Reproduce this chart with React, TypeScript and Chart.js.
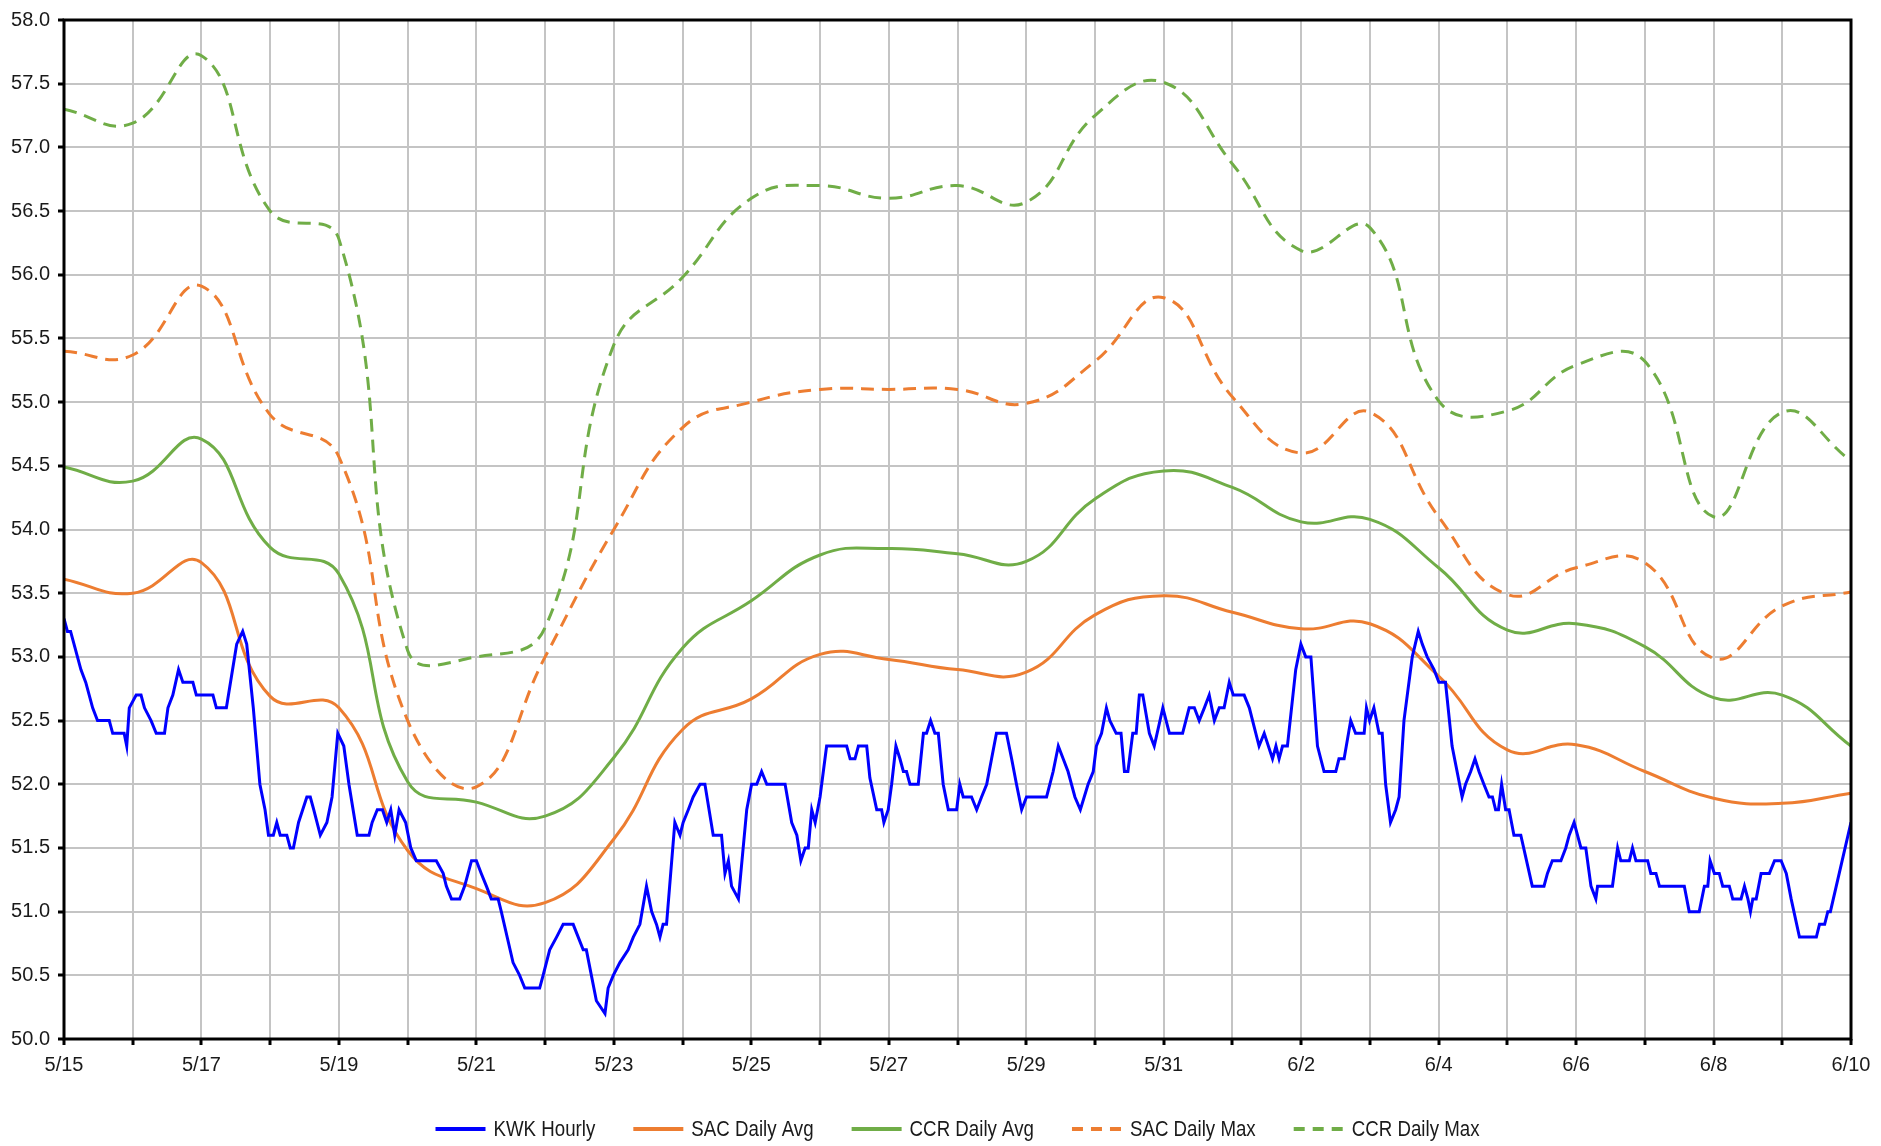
import { useEffect, useRef } from 'react';
import { Chart, registerables } from 'chart.js';

Chart.register(...registerables);

const FONT = '"Liberation Sans", Arial, sans-serif';

// Day categories (x = day index * 24 hours)
const dayLabels = [
  '5/15', '5/16', '5/17', '5/18', '5/19', '5/20', '5/21', '5/22', '5/23', '5/24',
  '5/25', '5/26', '5/27', '5/28', '5/29', '5/30', '5/31', '6/1', '6/2', '6/3',
  '6/4', '6/5', '6/6', '6/7', '6/8', '6/9', '6/10',
];

const sacDailyAvg = [
  53.61, 53.5, 53.74, 52.69, 52.6, 51.48, 51.18, 51.07, 51.57, 52.43,
  52.67, 53.02, 52.98, 52.9, 52.88, 53.33, 53.48, 53.35, 53.22, 53.26,
  52.85, 52.27, 52.31, 52.1, 51.89, 51.85, 51.93,
];

const ccrDailyAvg = [
  54.49, 54.38, 54.71, 53.86, 53.65, 52.02, 51.86, 51.75, 52.21, 53.07,
  53.44, 53.8, 53.85, 53.81, 53.75, 54.24, 54.46, 54.33, 54.06, 54.08,
  53.7, 53.21, 53.26, 53.08, 52.68, 52.7, 52.3,
];

const sacDailyMax = [
  55.4, 55.37, 55.91, 54.9, 54.57, 52.5, 51.98, 53.0, 54.0, 54.8,
  55.0, 55.1, 55.1, 55.1, 54.99, 55.32, 55.82, 55.04, 54.6, 54.92,
  54.1, 53.49, 53.7, 53.74, 52.99, 53.4, 53.51,
];

const ccrDailyMax = [
  57.3, 57.19, 57.72, 56.5, 56.28, 53.05, 53.0, 53.23, 55.45, 55.98,
  56.6, 56.7, 56.6, 56.7, 56.57, 57.25, 57.51, 56.87, 56.19, 56.37,
  55.01, 54.93, 55.29, 55.32, 54.1, 54.92, 54.54,
];

// KWK hourly: hours since 5/15 00:00 and temperatures
const kwkHours = [
  0, 1.2, 2.3, 3.5, 5.9, 7.6, 10, 11.7, 15.8, 17, 21, 21.9, 22.8, 25.2, 26.9, 28.1, 30.4, 32.2, 35.1, 36.3,
  38, 40, 41.5, 45, 46.2, 52, 53.2, 56.7, 58.5, 60.3, 62.4, 63.8, 66.1, 68.4, 70.2, 71.4, 73.1, 74.3, 75.5, 77.8,
  79, 80.1, 81.9, 84.8, 86, 87.2, 89.5, 91.8, 93.6, 95.6, 97.7, 99.5, 102.4, 106.5, 107.6, 109.4, 111.2, 112.7, 114.1, 115.5,
  117, 119.3, 121.1, 123, 130, 132.4, 133.5, 135.3, 138.2, 139.9, 142.3, 144, 145.7, 147.5, 149.2, 151.6, 152.7, 156.8, 159.1, 160.9,
  166.1, 167.3, 169.6, 172, 174.3, 177.8, 181.3, 182.4, 185.9, 188.9, 190, 191.8, 194.1, 197, 198.8, 201.1, 203.4, 205.2, 206.9, 208.1,
  209.2, 210.4, 213.3, 215.1, 216.2, 218, 219.7, 222.1, 223.8, 226.7, 229.6, 230.8, 232, 233.1, 235.5, 238.4, 240.1, 241.9, 243.6, 245.4,
  251.8, 254.1, 255.9, 257.3, 258.8, 259.9, 261.1, 262.3, 264, 266.3, 273.3, 274.5, 276.2, 277.4, 280.3, 281.4, 283.8, 285.5, 286.3, 287.8,
  289, 290.5, 291.9, 293.1, 294.2, 295.4, 298.3, 300.1, 301.2, 302.6, 304.1, 305.3, 307, 308.8, 311.7, 312.8, 314, 316.9, 318.7, 320.4,
  322.2, 323.9, 325.6, 329.1, 330.9, 332.6, 334.4, 336.1, 343.1, 345.4, 347.2, 348.9, 350.6, 353, 354.9, 357.6, 359.4, 360.5, 362.3, 364,
  365.2, 367.4, 369.1, 370.3, 371.5, 373.2, 374.4, 375.5, 376.7, 379, 380.7, 383.7, 386, 390.6, 392.9, 394.7, 396.4, 398.2, 399.9, 401.7,
  403.4, 405.1, 406.9, 408.3, 412.1, 413.9, 417.3, 419.1, 422, 423.2, 424.3, 425.5, 427.2, 430.1, 431.9, 433.6, 435.4, 437.7, 440, 444.1,
  445.2, 447, 449.3, 451, 454, 454.8, 455.9, 457.4, 459.2, 460.3, 461.5, 463.2, 465, 466.2, 467.9, 470.8, 472.9, 474.3, 476, 478.4,
  480.1, 482.4, 484.7, 488.2, 489.4, 491.2, 492.7, 494.1, 495.8, 497.6, 498.8, 499.9, 500.9, 502, 503.4, 504.6, 506.3, 508.7, 512.7, 516.8,
  518, 519.7, 522.7, 524.4, 525.6, 527.3, 529.7, 531.4, 533.2, 534.9, 535.5, 540.7, 542.5, 543.6, 546.6, 547.7, 548.9, 553, 554.1, 555.9,
  557.1, 565.8, 567.5, 571, 572.8, 574, 574.8, 576.3, 578, 579.2, 581.5, 582.7, 585.6, 586.8, 588, 588.9, 589.7, 590.9, 592.6, 595.5,
  597.3, 599.6, 601.4, 603.1, 606, 611.9, 613, 614.8, 615.9, 616.8, 624,
];

const kwkTemps = [
  53.3, 53.2, 53.2, 53.1, 52.9, 52.8, 52.6, 52.5, 52.5, 52.4, 52.4, 52.3, 52.6, 52.7, 52.7, 52.6, 52.5, 52.4, 52.4, 52.6,
  52.7, 52.9, 52.8, 52.8, 52.7, 52.7, 52.6, 52.6, 52.85, 53.1, 53.2, 53.1, 52.6, 52.0, 51.8, 51.6, 51.6, 51.7, 51.6, 51.6,
  51.5, 51.5, 51.7, 51.9, 51.9, 51.8, 51.6, 51.7, 51.9, 52.4, 52.3, 52.0, 51.6, 51.6, 51.7, 51.8, 51.8, 51.7, 51.8, 51.6,
  51.8, 51.7, 51.5, 51.4, 51.4, 51.3, 51.2, 51.1, 51.1, 51.2, 51.4, 51.4, 51.3, 51.2, 51.1, 51.1, 51.0, 50.6, 50.5, 50.4,
  50.4, 50.5, 50.7, 50.8, 50.9, 50.9, 50.7, 50.7, 50.3, 50.2, 50.4, 50.5, 50.6, 50.7, 50.8, 50.9, 51.2, 51.0, 50.9, 50.8,
  50.9, 50.9, 51.7, 51.6, 51.7, 51.8, 51.9, 52.0, 52.0, 51.6, 51.6, 51.3, 51.4, 51.2, 51.1, 51.8, 52.0, 52.0, 52.1, 52.0,
  52.0, 51.7, 51.6, 51.4, 51.5, 51.5, 51.8, 51.7, 51.9, 52.3, 52.3, 52.2, 52.2, 52.3, 52.3, 52.05, 51.8, 51.8, 51.7, 51.8,
  52.0, 52.3, 52.2, 52.1, 52.1, 52.0, 52.0, 52.4, 52.4, 52.5, 52.4, 52.4, 52.0, 51.8, 51.8, 52.0, 51.9, 51.9, 51.8, 51.9,
  52.0, 52.2, 52.4, 52.4, 52.2, 52.0, 51.8, 51.9, 51.9, 52.1, 52.3, 52.2, 52.1, 51.9, 51.8, 52.0, 52.1, 52.3, 52.4, 52.6,
  52.5, 52.4, 52.4, 52.1, 52.1, 52.4, 52.4, 52.7, 52.7, 52.4, 52.3, 52.6, 52.4, 52.4, 52.6, 52.6, 52.5, 52.6, 52.7, 52.5,
  52.6, 52.6, 52.8, 52.7, 52.7, 52.6, 52.3, 52.4, 52.2, 52.3, 52.2, 52.3, 52.3, 52.9, 53.1, 53.0, 53.0, 52.3, 52.1, 52.1,
  52.2, 52.2, 52.5, 52.4, 52.4, 52.6, 52.5, 52.6, 52.4, 52.4, 52.0, 51.7, 51.8, 51.9, 52.5, 53.0, 53.2, 53.1, 53.0, 52.9,
  52.8, 52.8, 52.3, 51.9, 52.0, 52.1, 52.2, 52.1, 52.0, 51.9, 51.9, 51.8, 51.8, 52.0, 51.8, 51.8, 51.6, 51.6, 51.2, 51.2,
  51.3, 51.4, 51.4, 51.5, 51.6, 51.7, 51.5, 51.5, 51.2, 51.1, 51.2, 51.2, 51.5, 51.4, 51.4, 51.5, 51.4, 51.4, 51.3, 51.3,
  51.2, 51.2, 51.0, 51.0, 51.2, 51.2, 51.4, 51.3, 51.3, 51.2, 51.2, 51.1, 51.1, 51.2, 51.1, 51.0, 51.1, 51.1, 51.3, 51.3,
  51.4, 51.4, 51.3, 51.1, 50.8, 50.8, 50.9, 50.9, 51.0, 51.0, 51.7,
];

const yMin = 50;
const yMax = 58;
const yStep = 0.5;

const BLUE = '#0000ff';
const ORANGE = '#ed7d31';
const GREEN = '#70ad47';

const daily = (vals: number[]) => vals.map((v, i) => ({ x: i * 24, y: v }));

const framePlugin = {
  id: 'frame',
  afterDatasetsDraw(chart: any) {
    const { ctx, chartArea } = chart;
    ctx.save();
    ctx.strokeStyle = '#000';
    ctx.lineWidth = 3;
    ctx.strokeRect(chartArea.left, chartArea.top, chartArea.right - chartArea.left, chartArea.bottom - chartArea.top);
    ctx.restore();
  },
};

const legendPlugin = {
  id: 'bottomLegend',
  afterDraw(chart: any) {
    const { ctx, chartArea } = chart;
    const lineLen = 50;
    const gapLT = 8;
    const gapItem = 38;
    const squeeze = 0.85;
    ctx.save();
    ctx.font = `22px ${FONT}`;
    const items = chart.data.datasets.map((ds: any) => ({ ds, w: ctx.measureText(ds.label).width * squeeze }));
    const total = items.reduce((s: number, it: any) => s + lineLen + gapLT + it.w, 0) + gapItem * (items.length - 1);
    let x = (chartArea.left + chartArea.right) / 2 - total / 2;
    const y = chartArea.bottom + 90;
    for (const it of items) {
      ctx.beginPath();
      ctx.strokeStyle = it.ds.borderColor;
      ctx.lineWidth = 4;
      ctx.setLineDash(it.ds.borderDash && it.ds.borderDash.length ? [11, 8] : []);
      ctx.moveTo(x, y);
      ctx.lineTo(x + lineLen, y);
      ctx.stroke();
      ctx.setLineDash([]);
      ctx.save();
      ctx.translate(x + lineLen + gapLT, y + 1);
      ctx.scale(squeeze, 1);
      ctx.fillStyle = '#1a1a1a';
      ctx.textBaseline = 'middle';
      ctx.textAlign = 'left';
      ctx.fillText(it.ds.label, 0, 0);
      ctx.restore();
      x += lineLen + gapLT + it.w + gapItem;
    }
    ctx.restore();
  },
};

export default function App() {
  const canvasRef = useRef<HTMLCanvasElement | null>(null);

  useEffect(() => {
    document.body.style.margin = '0';
    const canvas = canvasRef.current;
    if (!canvas) return;

    const chart = new Chart(canvas, {
      type: 'line',
      data: {
        datasets: [
          {
            label: 'KWK Hourly',
            data: kwkHours.map((h, i) => ({ x: h, y: kwkTemps[i] })),
            borderColor: BLUE,
            borderWidth: 3,
            pointRadius: 0,
            tension: 0,
            borderDash: [],
          },
          {
            label: 'SAC Daily Avg',
            data: daily(sacDailyAvg),
            borderColor: ORANGE,
            borderWidth: 3,
            pointRadius: 0,
            tension: 0.45,
            borderDash: [],
          },
          {
            label: 'CCR Daily Avg',
            data: daily(ccrDailyAvg),
            borderColor: GREEN,
            borderWidth: 3,
            pointRadius: 0,
            tension: 0.45,
            borderDash: [],
          },
          {
            label: 'SAC Daily Max',
            data: daily(sacDailyMax),
            borderColor: ORANGE,
            borderWidth: 3,
            pointRadius: 0,
            tension: 0.45,
            borderDash: [13, 8],
          },
          {
            label: 'CCR Daily Max',
            data: daily(ccrDailyMax),
            borderColor: GREEN,
            borderWidth: 3,
            pointRadius: 0,
            tension: 0.45,
            borderDash: [13, 8],
          },
        ],
      },
      options: {
        animation: false,
        responsive: false,
        devicePixelRatio: 1,
        layout: { padding: { left: 0, right: 30, top: 18, bottom: 0 } },
        plugins: {
          legend: { display: false },
          tooltip: { enabled: false },
        },
        scales: {
          x: {
            type: 'linear',
            min: 0,
            max: (dayLabels.length - 1) * 24,
            afterFit: (scale: any) => { scale.height = 107; },
            ticks: {
              stepSize: 24,
              autoSkip: false,
              maxRotation: 0,
              padding: 8,
              color: '#1a1a1a',
              font: { family: FONT, size: 20 },
              callback: (value: any) => {
                const d = Math.round(Number(value) / 24);
                return d % 2 === 0 ? dayLabels[d] : '';
              },
            },
            grid: {
              color: '#c4c4c4',
              lineWidth: 2,
              tickColor: '#000',
              tickLength: 6,
              tickWidth: 3,
            },
            border: { display: false },
          },
          y: {
            type: 'linear',
            min: yMin,
            max: yMax,
            afterFit: (scale: any) => { scale.width = 64; },
            ticks: {
              stepSize: yStep,
              padding: 8,
              color: '#1a1a1a',
              font: { family: FONT, size: 20 },
              callback: (value: any) => Number(value).toFixed(1),
            },
            grid: {
              color: '#c4c4c4',
              lineWidth: 2,
              tickColor: '#000',
              tickLength: 6,
              tickWidth: 3,
            },
            border: { display: false },
          },
        },
      },
      plugins: [framePlugin, legendPlugin],
    });

    return () => chart.destroy();
  }, []);

  return (
    <div style={{ width: 1881, height: 1146, background: '#fff' }}>
      <canvas ref={canvasRef} width={1881} height={1146} style={{ display: 'block' }} />
    </div>
  );
}
